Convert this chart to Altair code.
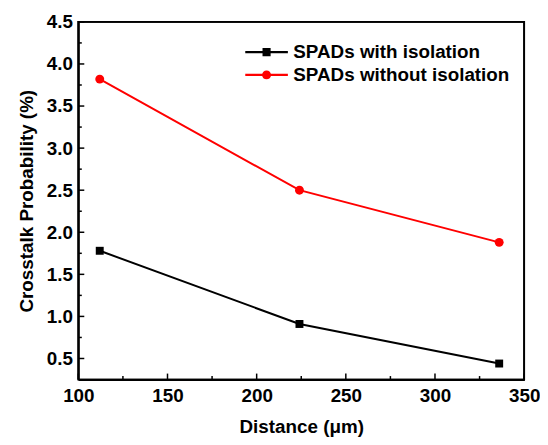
import altair as alt
import pandas as pd

# ---- data ----
distance = [112, 224, 336]
with_iso = [1.78, 0.91, 0.44]
without_iso = [3.82, 2.50, 1.88]
series_names = ["SPADs with isolation", "SPADs without isolation"]
series_colors = ["#000000", "#ff0000"]

x_ticks_major = [100, 150, 200, 250, 300, 350]
x_ticks_minor = [125, 175, 225, 275, 325]
y_ticks_major = [0.5, 1.0, 1.5, 2.0, 2.5, 3.0, 3.5, 4.0, 4.5]
y_ticks_minor = [0.75, 1.25, 1.75, 2.25, 2.75, 3.25, 3.75, 4.25]
x_range = [100, 350]
y_range = [0.25, 4.5]

FONT = "Liberation Sans"
W, H = 450, 361
PX_X = W / (x_range[1] - x_range[0])   # pixels per x unit
PX_Y = H / (y_range[1] - y_range[0])   # pixels per y unit

# one table: data rows + frame/tick guide rows (all placed through the scales)
rows = []
for name, vals in zip(series_names, [with_iso, without_iso]):
    for i, (d, v) in enumerate(zip(distance, vals)):
        rows.append(dict(kind="data", series=name, seg=name, ord=i,
                         distance=d, value=v))
corners = [(x_range[0], y_range[0]), (x_range[0], y_range[1]),
           (x_range[1], y_range[1]), (x_range[1], y_range[0]),
           (x_range[0], y_range[0])]
for i, (cx, cy) in enumerate(corners):
    rows.append(dict(kind="frame", series=None, seg="frame", ord=i,
                     distance=cx, value=cy))
for vals, px in [(x_ticks_major, 6), (x_ticks_minor, 3.5)]:
    for t in vals:
        rows.append(dict(kind="tick", series=None, seg=f"x{t}", ord=0,
                         distance=t, value=y_range[0]))
        rows.append(dict(kind="tick", series=None, seg=f"x{t}", ord=1,
                         distance=t, value=y_range[0] + px / PX_Y))
for vals, px in [(y_ticks_major, 6), (y_ticks_minor, 3.5)]:
    for t in vals:
        rows.append(dict(kind="tick", series=None, seg=f"y{t}", ord=0,
                         distance=x_range[0], value=t))
        rows.append(dict(kind="tick", series=None, seg=f"y{t}", ord=1,
                         distance=x_range[0] + px / PX_X, value=t))
df = pd.DataFrame(rows)

# legend symbols: line segment + marker (filled shapes)
LEG_SQUARE = "M-1,-0.05H1V0.05H-1Z M-0.19,-0.19H0.19V0.19H-0.19Z"
LEG_CIRCLE = ("M-1,-0.05H1V0.05H-1Z M-0.21,0A0.21,0.21,0,1,1,0.21,0"
              "A0.21,0.21,0,1,1,-0.21,0Z")

xscale = alt.Scale(domain=x_range, nice=False, zero=False)
yscale = alt.Scale(domain=y_range, nice=False, zero=False)
cscale = alt.Scale(domain=series_names, range=series_colors)

xaxis = alt.Axis(values=x_ticks_major, ticks=False, domain=True,
                 domainColor="black", domainWidth=1.8, grid=False,
                 labelFlush=False,
                 labelFont=FONT, labelFontSize=19, labelFontWeight="bold",
                 labelColor="black", labelPadding=7,
                 title="Distance (μm)", titleFont=FONT, titleFontSize=19,
                 titleFontWeight="bold", titleColor="black", titlePadding=12)
yaxis = alt.Axis(values=y_ticks_major, format=".1f", ticks=False, domain=True,
                 domainColor="black", domainWidth=1.8,
                 grid=False, labelFlush=False, labelFont=FONT, labelFontSize=19,
                 labelFontWeight="bold", labelColor="black", labelPadding=6,
                 title="Crosstalk Probability (%)", titleFont=FONT,
                 titleFontSize=19, titleFontWeight="bold", titleColor="black",
                 titlePadding=10)

legend = alt.Legend(title=None, orient="none", legendX=168, legendY=19,
                    symbolSize=1850, clipHeight=23, rowPadding=0, padding=0,
                    labelFont=FONT, labelFontSize=19, labelFontWeight="bold",
                    labelColor="black", labelOffset=5, symbolStrokeWidth=0,
                    symbolOpacity=1, labelLimit=400)

base = alt.Chart(df)
X = alt.X("distance:Q", scale=xscale, axis=xaxis)
Y = alt.Y("value:Q", scale=yscale, axis=yaxis)

lines = base.mark_line(strokeWidth=2).encode(
    x=X, y=Y, order="ord:Q",
    color=alt.Color("series:N", scale=cscale, legend=legend),
).transform_filter(alt.datum.kind == "data")

frame = base.mark_line(color="black", strokeWidth=1.8).encode(
    x=X, y=Y, order="ord:Q", detail="seg:N",
).transform_filter(alt.datum.kind == "frame")

ticks = base.mark_line(color="black", strokeWidth=1.5).encode(
    x=X, y=Y, order="ord:Q", detail="seg:N",
).transform_filter(alt.datum.kind == "tick")

pts_sq = base.mark_point(filled=True, shape="square", size=64, opacity=1).encode(
    x=X, y=Y,
    color=alt.Color("series:N", scale=cscale, legend=legend),
).transform_filter(alt.datum.series == series_names[0])

pts_ci = base.mark_point(filled=True, shape="circle", size=81, opacity=1).encode(
    x=X, y=Y,
    color=alt.Color("series:N", scale=cscale, legend=legend),
).transform_filter(alt.datum.series == series_names[1])

# hidden layer (clipped away, drawn last) that only feeds the legend symbols
leg_layer = base.mark_point(filled=True, opacity=1, clip=True).encode(
    x=alt.value(-500), y=alt.value(-500),
    color=alt.Color("series:N", scale=cscale, legend=legend),
    shape=alt.Shape("series:N",
                    scale=alt.Scale(domain=series_names,
                                    range=[LEG_SQUARE, LEG_CIRCLE]),
                    legend=legend),
).transform_filter(alt.datum.kind == "data")

chart = alt.layer(
    lines, frame, ticks, pts_sq, pts_ci, leg_layer,
).properties(
    width=W, height=H,
    padding={"left": 9, "top": 3, "right": 0, "bottom": 0},
).configure_view(stroke="black", strokeWidth=1.8)

chart.save("out.html", embed_options={"renderer": "svg", "actions": False})
